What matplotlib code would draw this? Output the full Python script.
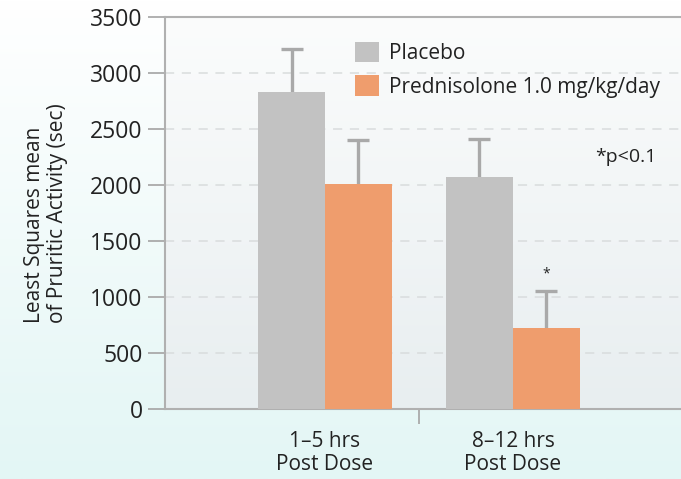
import numpy as np
import matplotlib.pyplot as plt

plt.rcParams["font.family"] = ["Open Sans", "DejaVu Sans"]

# data
groups = ["1\u20135 hrs\nPost Dose", "8\u201312 hrs\nPost Dose"]
placebo = [2830, 2075]
placebo_err = [380, 335]
pred = [2005, 720]
pred_err = [395, 335]
yticks = [0, 500, 1000, 1500, 2000, 2500, 3000, 3500]

c_placebo = "#c2c2c2"
c_pred = "#ef9d6d"
c_err = "#a9a9a9"
c_text = "#222222"

fig = plt.figure(figsize=(6.81, 4.79), dpi=100)

# figure background gradient (white -> pale cyan)
bg = fig.add_axes([0, 0, 1, 1], zorder=-10)
grad = np.linspace(0, 1, 256).reshape(-1, 1)
top = np.array([1.0, 1.0, 1.0])
bot = np.array([0xe3, 0xf6, 0xf5]) / 255
img = top + (bot - top) * grad[..., None]
bg.imshow(img, aspect="auto", extent=[0, 1, 0, 1], origin="upper")
bg.axis("off")

ax = fig.add_axes([165 / 681, 1 - 409 / 479, 1 - 165 / 681, 392 / 479])
ax.patch.set_alpha(0)
ptop = np.array([0xfb, 0xfc, 0xfc]) / 255
pbot = np.array([0xe8, 0xee, 0xf0]) / 255
pimg = ptop + (pbot - ptop) * grad[..., None]
ax.imshow(pimg, aspect="auto", extent=[0, 1, 0, 1], origin="upper",
          transform=ax.transAxes, zorder=0)

x = np.arange(len(groups))
w = 0.356
ax.bar(x - w / 2, placebo, w, color=c_placebo, zorder=3, label="Placebo")
ax.bar(x + w / 2, pred, w, color=c_pred, zorder=3, label="Prednisolone 1.0 mg/kg/day")
for xs, vals, errs in [(x - w / 2, placebo, placebo_err), (x + w / 2, pred, pred_err)]:
    eb = ax.errorbar(xs, vals, yerr=[np.zeros(2), errs], fmt="none",
                     ecolor=c_err, elinewidth=2.4, capsize=8, capthick=2.4, zorder=2)
    # upper error only: hide the cap sitting on the bar top
    for cap in eb[1]:
        if np.allclose(cap.get_ydata(), vals):
            cap.set_visible(False)

ax.text(x[1] + w / 2, pred[1] + pred_err[1] + 150, "*", ha="center", va="center",
        fontsize=10, color=c_text)
ax.text(1.6, 2250, "*p<0.1", ha="center", va="center", fontsize=14, color=c_text)

ax.set_xlim(-0.851, 1.894)
ax.set_ylim(0, 3500)
ax.set_yticks(yticks)
ax.tick_params(axis="y", labelsize=16.5, colors="#aaaaaa", labelcolor=c_text,
               length=12, width=1.3, pad=4)
ax.set_xticks(x)
ax.set_xticklabels(groups, fontsize=15, color=c_text, linespacing=1.1)
ax.tick_params(axis="x", which="major", length=0, pad=16)
ax.set_xticks([0.5], minor=True)
ax.tick_params(axis="x", which="minor", length=11, width=1.3, colors="#aaaaaa")

ax.grid(axis="y", color="#d9dcdd", linestyle=(0, (6, 5)), linewidth=1.1, zorder=1)
ax.set_axisbelow(True)
for s in ["left", "bottom", "top"]:
    ax.spines[s].set_color("#b0b0b0")
    ax.spines[s].set_linewidth(1.5)
ax.spines["right"].set_visible(False)

ax.set_ylabel("Least Squares mean\nof Pruritic Activity (sec)", fontsize=15,
              color=c_text, labelpad=16, linespacing=1.1, multialignment="left")

leg = ax.legend(loc="upper left", bbox_to_anchor=(0.332, 0.985), frameon=False,
                fontsize=15, handlelength=1.15, handleheight=1.15,
                handletextpad=0.5, labelspacing=0.55)
for t in leg.get_texts():
    t.set_color(c_text)

fig.savefig("out.png", dpi=100)
